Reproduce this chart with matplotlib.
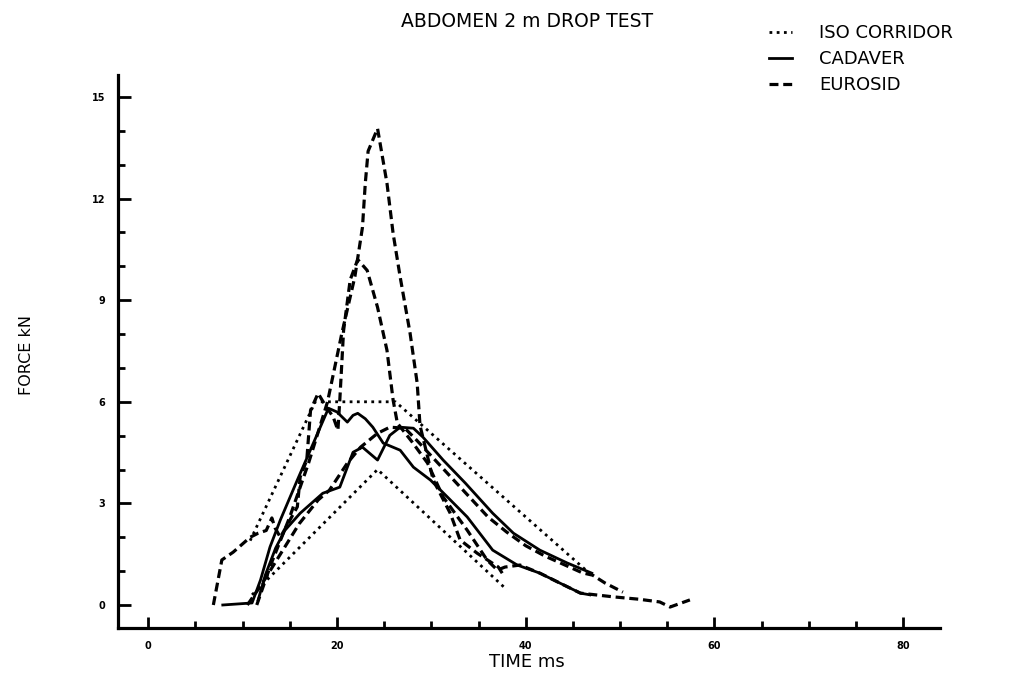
import matplotlib
matplotlib.use("Agg")
import matplotlib.pyplot as plt
from matplotlib.ticker import MultipleLocator

# ---- data (time ms, force kN) ----
iso_upper_t = [10.8, 17.7, 26.2, 46.9]
iso_upper_f = [1.9, 6.0, 6.0, 0.9]
iso_lower_t = [11.0, 24.3, 38.0]
iso_lower_f = [0.3, 4.0, 0.45]

cad1_t = [7.9, 11.0, 11.9, 12.9, 14.0, 15.8, 17.5, 19.1, 20.0, 21.1, 21.7, 22.2, 23.0,
          23.8, 24.9, 26.7, 28.1, 29.9, 31.7, 33.8, 36.5, 39.1, 41.5, 43.6, 45.8, 46.8]
cad1_f = [0.0, 0.06, 0.74, 1.71, 2.51, 3.69, 4.78, 5.81, 5.7, 5.4, 5.6, 5.66, 5.5,
          5.25, 4.78, 4.57, 4.07, 3.69, 3.19, 2.6, 1.62, 1.18, 0.94, 0.65, 0.35, 0.3]

cad2_t = [11.65, 12.4, 13.5, 14.5, 16.1, 18.5, 20.3, 21.7, 22.7, 24.3, 25.6, 26.7, 28.1,
          29.1, 31.25, 33.6, 36.5, 38.7, 41.5, 44.4, 47.0]
cad2_f = [0.15, 0.88, 1.68, 2.21, 2.71, 3.3, 3.48, 4.51, 4.66, 4.28, 5.01, 5.25, 5.22,
          4.96, 4.28, 3.6, 2.71, 2.12, 1.62, 1.24, 0.94]

euro1_t = [11.5, 13.0, 15.0, 17.0, 19.0, 20.5, 21.9, 22.7, 23.0, 23.3, 24.3, 25.3, 25.95,
           26.7, 27.75, 28.5, 28.8, 30.2, 32.0, 33.05, 34.85, 37.1, 37.6]
euro1_f = [0.0, 1.2, 2.6, 4.2, 6.0, 8.0, 9.7, 11.15, 12.45, 13.4, 14.07, 12.45, 10.97,
           9.68, 8.02, 6.55, 5.3, 3.69, 2.71, 1.92, 1.53, 1.12, 0.9]

euro2_t = [6.9, 7.8, 9.0, 10.8, 11.65, 12.5, 13.1, 13.45, 14.0, 15.8, 16.1, 16.8, 17.2,
           18.0, 18.75, 19.6, 20.1, 20.3, 20.7, 21.4, 22.2, 23.2, 24.3, 25.3, 25.95, 26.4,
           28.0, 29.6, 31.25, 33.8, 35.9, 37.0, 37.8, 39.4, 41.5, 43.6, 45.8, 49.3, 52.0,
           54.2, 55.3, 57.4]
euro2_f = [0.0, 1.33, 1.56, 2.0, 2.12, 2.2, 2.57, 2.27, 2.0, 2.9, 3.78, 4.28, 5.75,
           6.25, 5.9, 5.55, 5.16, 6.05, 8.1, 9.6, 10.2, 9.88, 8.79, 7.52, 6.05, 5.37,
           4.8, 4.19, 3.19, 2.21, 1.33, 1.03, 1.12, 1.18, 0.94, 0.65, 0.35, 0.24, 0.17,
           0.09, -0.06, 0.15]

euro3_t = [10.5, 12.0, 14.0, 16.0, 18.0, 19.2, 21.1, 22.5, 24.3, 25.6, 27.2, 28.5, 30.0,
           32.0, 34.0, 36.0, 38.0, 40.0, 42.0, 44.0, 46.0, 47.1, 48.4, 50.3]
euro3_f = [0.0, 0.6, 1.5, 2.4, 3.1, 3.39, 4.19, 4.66, 5.07, 5.25, 5.22, 4.85, 4.4,
           3.8, 3.2, 2.6, 2.15, 1.75, 1.45, 1.2, 0.95, 0.88, 0.65, 0.38]

title = "ABDOMEN 2 m DROP TEST"
legend_labels = ["ISO CORRIDOR", "CADAVER", "EUROSID"]
x_label = "TIME ms"
y_label = "FORCE kN"
x_major = [0, 20, 40, 60, 80]
y_major = [0, 3, 6, 9, 12, 15]

# ---- styles ----
dotted = dict(color="black", lw=2.0, linestyle=(0, (1.0, 1.6)))
solid = dict(color="black", lw=2.0, linestyle="-")
dashed = dict(color="black", lw=2.3, linestyle=(0, (2.8, 1.5)))

fig = plt.figure(figsize=(10.30, 6.75), dpi=100)
ax = fig.add_axes([0.1146, 0.0696, 0.7980, 0.8193])

l_iso, = ax.plot(iso_upper_t, iso_upper_f, **dotted)
ax.plot(iso_lower_t, iso_lower_f, **dotted)
l_cad, = ax.plot(cad1_t, cad1_f, **solid)
ax.plot(cad2_t, cad2_f, **solid)
l_eur, = ax.plot(euro1_t, euro1_f, **dashed)
ax.plot(euro2_t, euro2_f, **dashed)
ax.plot(euro3_t, euro3_f, **dashed)

ax.set_xlim(-3.2, 83.9)
ax.set_ylim(-0.68, 15.65)

for s in ["top", "right"]:
    ax.spines[s].set_visible(False)
for s in ["left", "bottom"]:
    ax.spines[s].set_linewidth(2.3)

ax.set_xticks(x_major)
ax.set_yticks(y_major)
ax.xaxis.set_minor_locator(MultipleLocator(5))
ax.yaxis.set_minor_locator(MultipleLocator(1))
ax.tick_params(axis="both", which="major", direction="in", width=2.0, labelsize=7, pad=9)
ax.tick_params(axis="y", which="major", length=9)
ax.tick_params(axis="x", which="major", length=8)
ax.tick_params(axis="both", which="minor", direction="in", width=2.0, length=5)
for lab in ax.get_xticklabels() + ax.get_yticklabels():
    lab.set_fontweight("bold")

fig.text(0.512, 0.968, title, ha="center", va="center", fontsize=13.5)
fig.text(0.512, 0.019, x_label, ha="center", va="center", fontsize=13)
fig.text(0.026, 0.474, y_label, ha="center", va="center", rotation=90, fontsize=11.5)

fig.legend([l_iso, l_cad, l_eur], legend_labels, loc="upper left",
           bbox_to_anchor=(0.734, 0.983), frameon=False, fontsize=13,
           handlelength=1.3, handletextpad=1.5, labelspacing=0.45, borderpad=0.2)

fig.savefig("out.png", dpi=100)
